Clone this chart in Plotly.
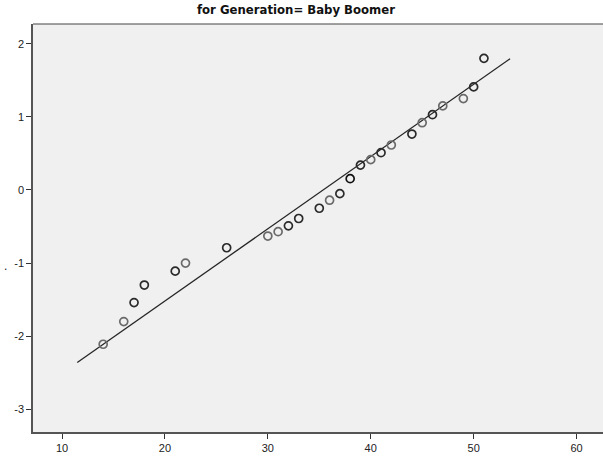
import plotly.graph_objects as go

# Observed values (years) and their expected normal scores
observed = [14, 16, 17, 18, 21, 22, 26, 30, 31, 32, 33, 35, 36, 37, 38,
            39, 40, 41, 42, 44, 45, 46, 47, 49, 50, 51]
expected_normal = [-2.11, -1.80, -1.54, -1.30, -1.11, -1.00, -0.79, -0.63,
                   -0.57, -0.49, -0.39, -0.25, -0.14, -0.05, 0.155, 0.34,
                   0.415, 0.51, 0.615, 0.765, 0.92, 1.03, 1.15, 1.25, 1.41,
                   1.80]
# number of cases sharing each value (ties draw darker)
case_counts = [1, 1, 2, 2, 2, 1, 2, 1, 1, 2, 2, 2, 1, 2, 3,
               2, 1, 2, 1, 2, 1, 2, 1, 1, 2, 2]

# Reference normal line: mean and standard deviation, drawn over this span
sample_mean = 35.37
sample_sd = 10.12
line_span = [11.48, 53.54]

x_ticks = [10, 20, 30, 40, 50, 60]
y_ticks = [-3, -2, -1, 0, 1, 2]

W, H = 603, 457
ML, MT, MB, MR = 32.5, 24, 25, 0

line_y = [(v - sample_mean) / sample_sd for v in line_span]
marker_colors = ["#6a6a6a" if c == 1 else ("#2a2a2a" if c == 2 else "#111111")
                 for c in case_counts]

fig = go.Figure()
fig.add_trace(go.Scatter(
    x=line_span, y=line_y, mode="lines",
    line=dict(color="#262626", width=1.3),
    hoverinfo="skip", showlegend=False,
))
fig.add_trace(go.Scatter(
    x=observed, y=expected_normal, mode="markers",
    marker=dict(symbol="circle-open", size=8,
                color=marker_colors,
                line=dict(color=marker_colors, width=1.7)),
    showlegend=False,
))

axis_font = dict(family="Liberation Sans, Arial, sans-serif", size=11, color="#222222")

fig.update_layout(
    width=W, height=H,
    margin=dict(l=ML, r=MR, t=MT, b=MB, pad=0),
    paper_bgcolor="white",
    plot_bgcolor="#f0f0f0",
    title=dict(
        text="<b>for Generation= Baby Boomer</b>",
        font=dict(family="Liberation Sans Narrow, Arial Narrow, DejaVu Sans Condensed, sans-serif",
                  size=13, color="#111111"),
        x=296 / W, xref="container", xanchor="center",
        y=1 - 9 / H, yref="container", yanchor="middle",
    ),
    xaxis=dict(
        range=[7.18, 62.57], tickvals=x_ticks, ticktext=[str(v) for v in x_ticks],
        showgrid=False, zeroline=False,
        showline=True, linecolor="#555555", linewidth=1.5,
        ticks="outside", ticklen=5, tickwidth=1, tickcolor="#333333",
        tickfont=axis_font,
    ),
    yaxis=dict(
        range=[-3.31, 2.27], tickvals=y_ticks, ticktext=[str(v) for v in y_ticks],
        showgrid=False, zeroline=False,
        showline=True, linecolor="#555555", linewidth=1.5,
        ticks="outside", ticklen=5, tickwidth=1, tickcolor="#333333",
        tickfont=axis_font,
    ),
    shapes=[dict(type="line", xref="paper", yref="paper", x0=0, x1=1, y0=1, y1=1,
                 line=dict(color="#444444", width=1.2))],
    annotations=[dict(text=".", xref="paper", yref="paper",
                      x=(5 - ML) / (W - ML - MR), y=(H - MB - 266) / (H - MT - MB),
                      xanchor="center", yanchor="middle", showarrow=False,
                      font=dict(family="Liberation Sans, Arial, sans-serif", size=12,
                                color="#111111"))],
)

fig.write_html("out.html")
